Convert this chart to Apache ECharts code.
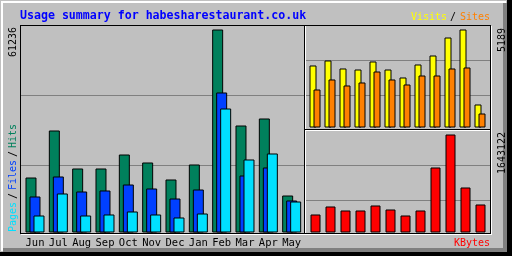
<!DOCTYPE html>
<html><head><meta charset="utf-8">
<script src="https://cdn.jsdelivr.net/npm/echarts@6/dist/echarts.min.js"></script>
<style>html,body{margin:0;padding:0;background:#c0c0c0;overflow:hidden}#c{width:512px;height:256px}</style>
</head><body><div id="c"></div>
<script>
// ---- data ----
const months = ['Jun','Jul','Aug','Sep','Oct','Nov','Dec','Jan','Feb','Mar','Apr','May'];
const hits   = [16591,30769,19306,19306,23529,21116,15988,20513,61236,32277,34389,11161];
const files  = [10860,16893,12368,12670,14479,13273,10256,12971,42232,17194,19608,9653];
const pages  = [5128,11765,5128,5430,6335,5430,4525,5731,37405,22021,23831,9351];
const visits = [3283,3548,3124,3071,3495,3071,2648,3336,3812,4765,5189,1218];
const sites  = [2012,2542,2224,2383,2965,2542,2277,2753,2753,3124,3177,741];
const kbytes = [301799,435932,368865,368865,452698,385632,285032,368865,1089829,1643122,754497,469465];
const maxLabels = [61236, 5189, 1643122]; // hits scale, visits scale, kbytes scale
const title = 'Usage summary for habesharestaurant.co.uk';

// ---- colours ----
const C = {hits:'#00805c', files:'#0040ff', pages:'#00e0ff', visits:'#ffff00', sites:'#ff8000', kb:'#ff0000',
           grey:'#c0c0c0', dk:'#808080', grid:'#808080'};
const MONO = '"DejaVu Sans Mono", monospace';

const chart = echarts.init(document.getElementById('c'), null, {renderer:'canvas', width:512, height:256});

function gridAxisPair(idx, top, h, left, w, max, interval) {
  return {
    x: {gridIndex: idx, type:'value', show:false, min:0, max:1},
    y: {gridIndex: idx, type:'value', min:0, max:max, interval:interval,
        axisLine:{show:false}, axisTick:{show:false}, axisLabel:{show:false},
        splitLine:{show:true, showMinLine:false, showMaxLine:false, lineStyle:{color:C.grid, width:1}}}
  };
}
const g1 = gridAxisPair(1), g3 = gridAxisPair(3), g5 = gridAxisPair(5);
g1.y.max = 210; g1.y.interval = 70;
g3.y.max = 105; g3.y.interval = 35;
g5.y.max = 105; g5.y.interval = 35;

function rot(text, x, y, color, align) {
  return {type:'text', x:x, y:y, rotation:Math.PI/2, z:100,
    style:{text:text, fill:color, font:'10px '+MONO, textAlign:align||'left', align:align||'left',
           textVerticalAlign:'middle', verticalAlign:'middle'}};
}
function txt(text, x, y, color, font, align) {
  return {type:'text', x:x, y:y, z:100,
    style:{text:text, fill:color, font:font||('10px '+MONO), textAlign:align||'left', align:align||'left',
           textVerticalAlign:'middle', verticalAlign:'middle'}};
}
function line(x1,y1,x2,y2,color){
  return {type:'line', z:90, shape:{x1:x1,y1:y1,x2:x2,y2:y2}, style:{stroke:color, lineWidth:1}};
}
function box(x,y,w,h,color){ return {type:'rect', z:80, shape:{x:x,y:y,width:w,height:h}, style:{fill:color}}; }

const barBorder = {borderColor:'#000', borderWidth:1};

const option = {
  animation:false,
  backgroundColor: C.grey,
  grid:[
    {left:23.33, top:29.5, width:280, height:203},   // 0 main bars
    {left:21, top:25, width:283, height:210},        // 1 main grid lines
    {left:307.5, top:29.5, width:180, height:98},    // 2 visits/sites
    {left:306, top:25, width:184, height:105},       // 3 grid lines
    {left:308, top:134.5, width:180, height:98},     // 4 kbytes
    {left:306, top:130, width:184, height:105}       // 5 grid lines
  ],
  xAxis:[
    {gridIndex:0, type:'category', data:months, axisLine:{show:false}, axisTick:{show:false},
     axisLabel:{color:'#000', fontFamily:MONO, fontSize:10.5, margin:5, interval:0}},
    g1.x,
    {gridIndex:2, type:'category', data:months, show:false},
    g3.x,
    {gridIndex:4, type:'category', data:months, show:false},
    g5.x
  ],
  yAxis:[
    {gridIndex:0, type:'value', min:0, max:maxLabels[0], show:false, splitLine:{show:false}},
    g1.y,
    {gridIndex:2, type:'value', min:0, max:maxLabels[1], show:false, splitLine:{show:false}},
    g3.y,
    {gridIndex:4, type:'value', min:0, max:maxLabels[2], show:false, splitLine:{show:false}},
    g5.y
  ],
  series:[
    {type:'bar', name:'Hits', xAxisIndex:0, yAxisIndex:0, data:hits, barWidth:11, barGap:'-63.636%', itemStyle:Object.assign({color:C.hits}, barBorder), silent:true},
    {type:'bar', name:'Files', xAxisIndex:0, yAxisIndex:0, data:files, barWidth:11, barGap:'-63.636%', itemStyle:Object.assign({color:C.files}, barBorder), silent:true},
    {type:'bar', name:'Pages', xAxisIndex:0, yAxisIndex:0, data:pages, barWidth:11, barGap:'-63.636%', itemStyle:Object.assign({color:C.pages}, barBorder), silent:true},
    {type:'bar', name:'Visits', xAxisIndex:2, yAxisIndex:2, data:visits, barWidth:7, barGap:'-42.857%', itemStyle:Object.assign({color:C.visits}, barBorder), silent:true},
    {type:'bar', name:'Sites', xAxisIndex:2, yAxisIndex:2, data:sites, barWidth:7, barGap:'-42.857%', itemStyle:Object.assign({color:C.sites}, barBorder), silent:true},
    {type:'bar', name:'KBytes', xAxisIndex:4, yAxisIndex:4, data:kbytes, barWidth:10, itemStyle:Object.assign({color:C.kb}, barBorder), silent:true}
  ],
  graphic:[
    // outer bevel
    box(0,0,512,1,C.grey),
    box(1,1,505,2,'#ffffff'),
    box(1,1,2,250,'#ffffff'),
    box(503,3,4,249,C.dk),
    box(3,248,504,4,C.dk),
    box(507,0,5,256,'#000000'),
    box(0,252,512,4,'#000000'),
    // panel frame (inset)
    line(20,25.5,491,25.5,'#000'),
    line(20.5,25,20.5,234,'#000'),
    line(20,233.5,491,233.5,'#000'),
    line(490.5,25,490.5,234,'#000'),
    line(21,234.5,492,234.5,'#fff'),
    line(491.5,26,491.5,235,'#fff'),
    line(304.5,25,304.5,234,'#000'),
    line(305.5,26,305.5,233,'#fff'),
    line(305,129.5,490,129.5,'#000'),
    line(306,130.5,490,130.5,'#fff'),
    // title & legends
    txt(title, 20, 15.5, '#0000ff', 'bold 11.6px '+MONO),
    txt('Visits', 411, 17, C.visits),
    txt('/', 450, 17, '#000'),
    txt('Sites', 490, 17, C.sites, null, 'right'),
    txt('KBytes', 490, 243, C.kb, null, 'right'),
    rot('Pages', 13, 232, C.pages),
    rot('/', 13, 199, '#000'),
    rot('Files', 13, 190, C.files),
    rot('/', 13, 157, '#000'),
    rot('Hits', 13, 148, C.hits),
    rot(String(maxLabels[0]), 13, 57, '#000'),
    rot(String(maxLabels[1]), 502, 52, '#000'),
    rot(String(maxLabels[2]), 502, 174, '#000')
  ]
};
chart.setOption(option);
</script></body></html>
